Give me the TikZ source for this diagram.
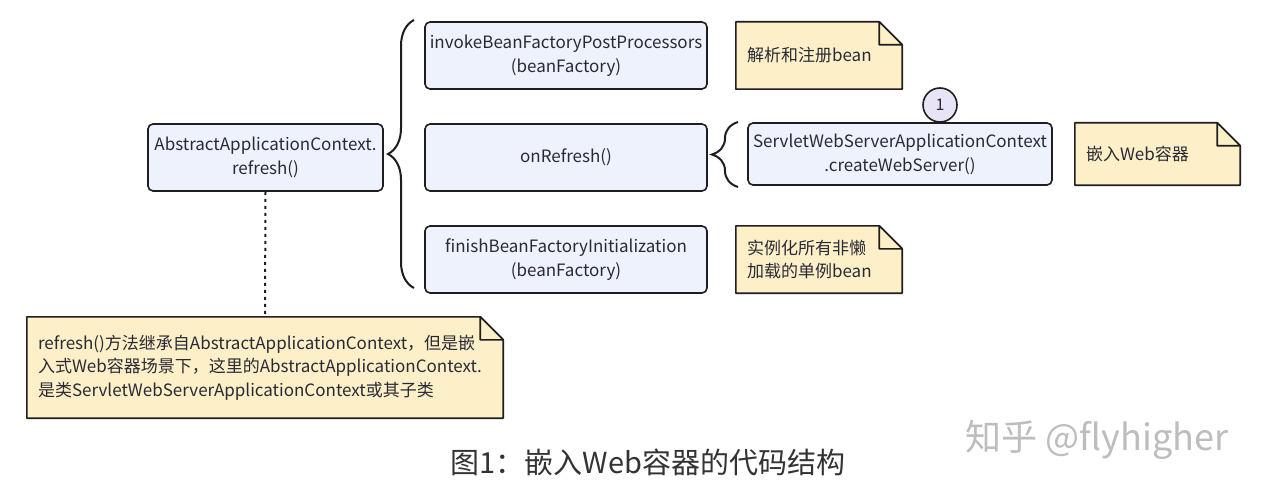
\documentclass[tikz,border=0pt]{standalone}
\usepackage{fontspec}
\setmainfont{Noto Sans CJK SC}
\usetikzlibrary{decorations.pathreplacing}
\definecolor{boxfill}{HTML}{EEF2FC}
\definecolor{notefill}{HTML}{FDF0C8}
\definecolor{circfill}{HTML}{E9E3F7}
\definecolor{linec}{HTML}{1E1E1E}
\definecolor{textc}{HTML}{2A2A36}
\definecolor{capc}{HTML}{333333}
\definecolor{wmc}{HTML}{BDBDBD}
\begin{document}
\begin{tikzpicture}[x=1pt,y=-1pt,
  box/.style={draw=linec, line width=1.6pt, rounded corners=5pt, fill=boxfill, align=center,
    font=\fontsize{17}{24}\selectfont, text=textc, inner sep=0pt},
  notebox/.style={align=left, font=\fontsize{17}{23.5}\selectfont, text=textc, inner xsep=11pt, inner ysep=0pt},
  noteline/.style={draw=linec, fill=notefill, line width=1.6pt, line join=round},
  circ/.style={circle, draw=linec, line width=1.6pt, fill=circfill, minimum size=34pt, inner sep=0pt,
    font=\fontsize{16}{18}\selectfont, text=textc},
  bracestyle/.style={draw=linec, line width=2pt, decorate, decoration={brace, amplitude=26pt}},
  dotline/.style={draw=linec, line width=2pt, dash pattern=on 3pt off 4pt}
]
\useasboundingbox[fill=white] (0,0) rectangle (1266,500);

% boxes
\node[box, minimum width=235pt, minimum height=67pt] (main) at (265.5,157.5) {AbstractApplicationContext.\\refresh()};
\node[box, minimum width=282pt, minimum height=67pt] (b1) at (566,55.5) {invokeBeanFactoryPostProcessors\\(beanFactory)};
\node[box, minimum width=282pt, minimum height=67pt] (b2) at (566,157.5) {onRefresh()};
\node[box, minimum width=282pt, minimum height=67pt] (b3) at (566,259.5) {finishBeanFactoryInitialization\\(beanFactory)};
\node[box, minimum width=304pt, minimum height=62pt] (b4) at (900,154) {ServletWebServerApplicationContext\\.createWebServer()};

% notes (outline drawn first, text on top)
\newcommand{\drawnote}[2]{%
  \path[noteline] (#1.north west) -- ([xshift=-#2]#1.north east) -- ([yshift=-#2]#1.north east)
     -- (#1.south east) -- (#1.south west) -- cycle;
  \path[noteline] ([xshift=-#2]#1.north east) -- ([xshift=-#2,yshift=-#2]#1.north east) -- ([yshift=-#2]#1.north east) -- cycle;
}
\node[notebox, text width=144pt, minimum height=67pt] (n1) at (819,55.5) {\phantom{x}};
\node[notebox, text width=143pt, minimum height=62pt] (n2) at (1157.5,154) {\phantom{x}};
\node[notebox, text width=144pt, minimum height=67pt] (n3) at (819,259.5) {\phantom{x}};
\node[notebox, text width=454pt, minimum height=101pt] (n4) at (265,367.5) {\phantom{x}};
\drawnote{n1}{23pt}
\drawnote{n2}{23pt}
\drawnote{n3}{23pt}
\drawnote{n4}{23pt}
\node[notebox, text width=144pt, minimum height=67pt] at (n1.center) {解析和注册bean};
\node[notebox, text width=143pt, minimum height=62pt] at (n2.center) {嵌入Web容器};
\node[notebox, text width=144pt, minimum height=67pt] at (n3.center) {实例化所有非懒\\加载的单例bean};
\node[notebox, text width=454pt, minimum height=101pt] at (n4.center) {refresh()方法继承自AbstractApplicationContext，但是嵌\\入式Web容器场景下，这里的AbstractApplicationContext.\\是类ServletWebServerApplicationContext或其子类};

% circle marker
\node[circ] (c1) at (940,105) {1};

% braces
\coordinate (bigtop) at (414,20);
\coordinate (bigbot) at (414,288);
\coordinate (smtop) at (738,122);
\coordinate (smbot) at (738,187);
\draw[bracestyle] (bigbot) -- (bigtop);
\draw[bracestyle] (smbot) -- (smtop);

% dotted connector
\draw[dotline] (main.south) -- (n4.north);

% caption and watermark
\node[font=\fontsize{29}{32}\selectfont, text=capc] (cap) at (648,462) {图1：嵌入Web容器的代码结构};
\node[font=\fontsize{36}{38}\selectfont, text=wmc] (wm) at (1097,440) {知乎 @flyhigher};
\end{tikzpicture}
\end{document}
